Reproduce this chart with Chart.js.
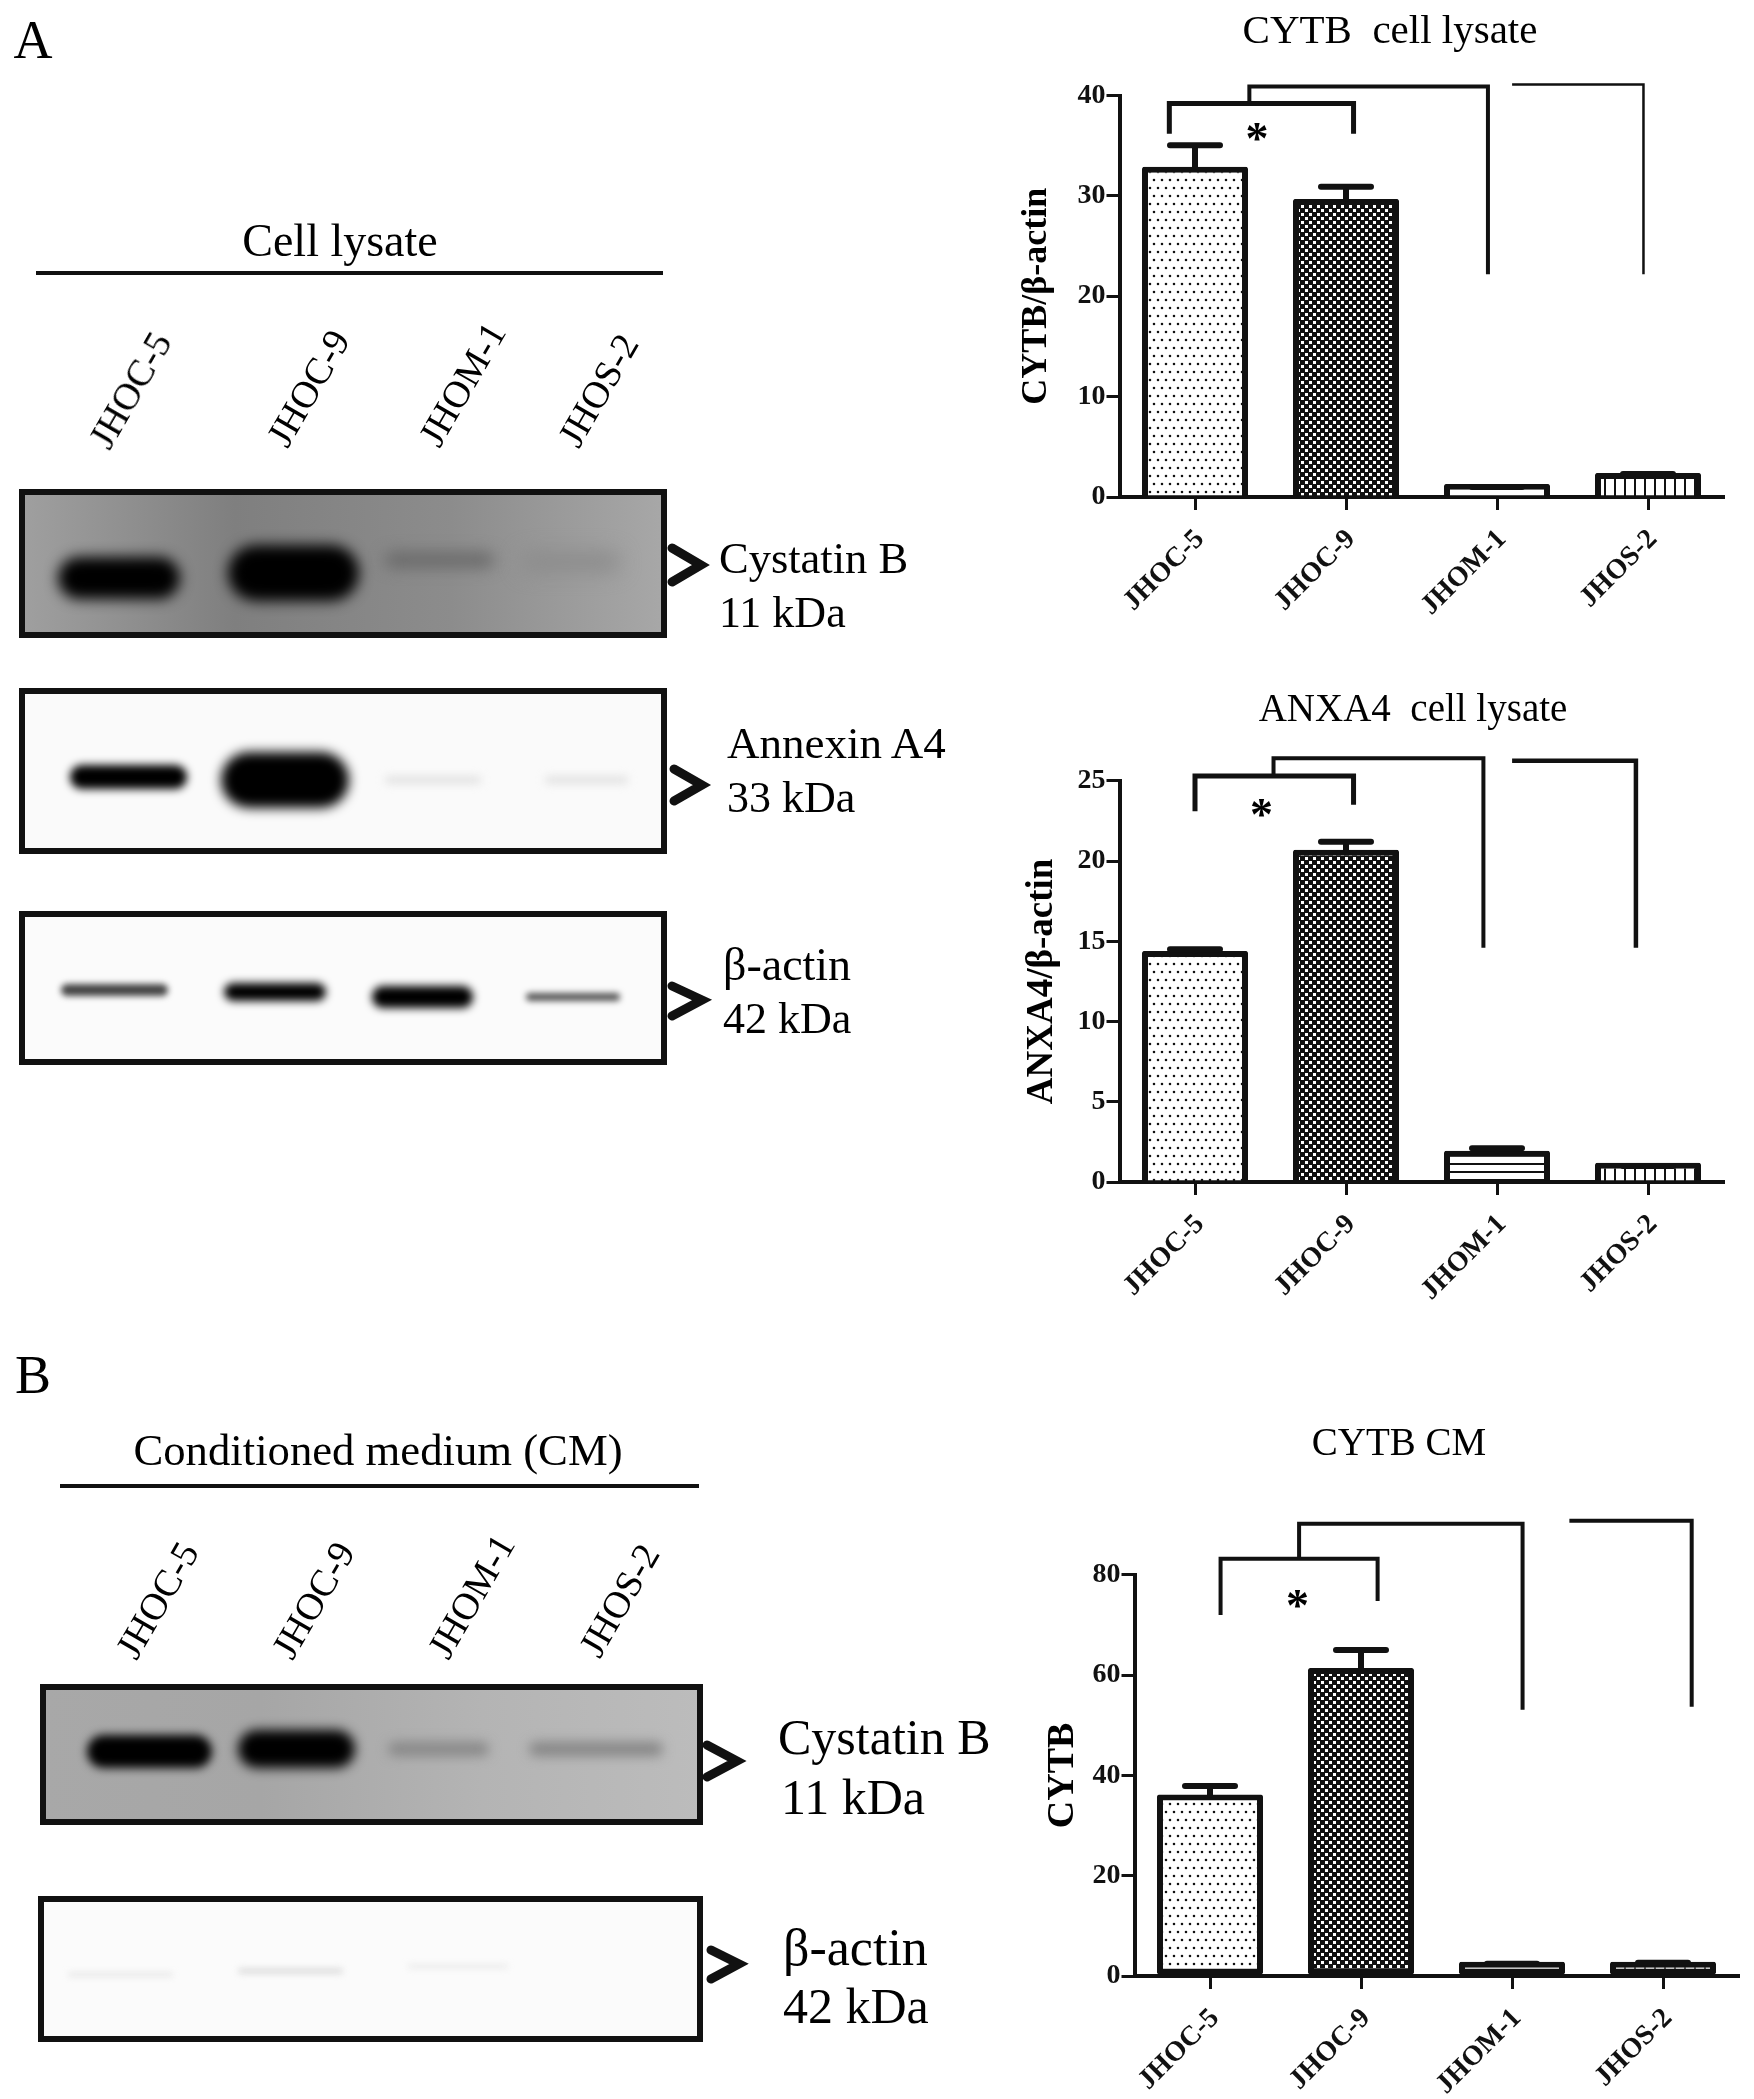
<!DOCTYPE html>
<html lang="en">
<head>
<meta charset="UTF-8">
<title>Cystatin B and Annexin A4 expression</title>
<script src="https://cdn.jsdelivr.net/npm/chart.js"></script>
<style>
    html, body { margin: 0; padding: 0; background: #fff; overflow: hidden; width: 1754px; height: 2099px; }
    #page { position: relative; width: 1754px; height: 2099px; overflow: hidden; }
    canvas { position: absolute; }
    .t { position: absolute; font-family: "Liberation Serif", serif; color: #000; white-space: nowrap; transform: translate(0, -50%); }
    .c { transform: translate(-50%, -50%); }
    .r { transform: translate(-50%, -50%) rotate(-60deg); }
</style>
</head>
<body>
<div id="page">
    <canvas id="blots" width="1000" height="2099" style="left:0;top:0"></canvas>
    <canvas id="chart1" style="left:1000px;top:0"></canvas>
    <canvas id="chart2" style="left:1000px;top:680px"></canvas>
    <canvas id="chart3" style="left:1000px;top:1400px"></canvas>
</div>
<script>
// values
const categories = ['JHOC-5', 'JHOC-9', 'JHOM-1', 'JHOS-2'];

const cytbValues = [32.9, 29.7, 1.3, 2.4];
const cytbErrors = [35.05, 30.9, 1.0, 2.3];

const anxaValues = [14.4, 20.7, 1.95, 1.2];
const anxaErrors = [14.5, 21.2, 2.1, 1.0];

const cmValues = [36.2, 61.4, 2.85, 2.85];
const cmErrors = [37.9, 65, 2.45, 2.65];

// significance brackets, in [category index, value] pairs
const cytbBrackets = [
    [[-0.17, 36.2], [-0.17, 39.2], [1.05, 39.2], [1.05, 36.2]],
    [[0.36, 39.2], [0.36, 40.9], [1.94, 40.9], [1.94, 22.2]],
    [[2.1, 41.1], [2.97, 41.1], [2.97, 22.2]]
];
const anxaBrackets = [
    [[0, 23.1], [0, 25.3], [1.05, 25.3], [1.05, 23.5]],
    [[0.52, 25.3], [0.52, 26.4], [1.91, 26.4], [1.91, 14.6]],
    [[2.1, 26.25], [2.92, 26.25], [2.92, 14.6]]
];
const cmBrackets = [
    [[0.07, 72], [0.07, 83.2], [1.11, 83.2], [1.11, 74.8]],
    [[0.59, 83.2], [0.59, 90.2], [2.07, 90.2], [2.07, 53.1]],
    [[2.38, 90.8], [3.19, 90.8], [3.19, 53.7]]
];

const serif = '"Liberation Serif", serif';

function tile(w, h, draw) {
    const c = document.createElement('canvas');
    c.width = w;
    c.height = h;
    const g = c.getContext('2d');
    g.fillStyle = '#fff';
    g.fillRect(0, 0, w, h);
    g.fillStyle = '#111';
    draw(g);
    return g.createPattern(c, 'repeat');
}

const dots = tile(8, 16, g => {
    g.beginPath();
    g.arc(2, 4, 1.3, 0, 7);
    g.arc(6, 12, 1.3, 0, 7);
    g.fill();
});
const checks = tile(8, 8, g => {
    g.fillRect(0, 0, 8, 8);
    g.fillStyle = '#fff';
    g.fillRect(1, 1, 3, 3);
    g.fillRect(5, 5, 3, 3);
});
const hLines = tile(8, 8, g => g.fillRect(0, 3, 8, 2));
const vLines = tile(10, 10, g => g.fillRect(4, 0, 2, 10));

function errorAndBrackets(errors, brackets, widths, star) {
    return {
        id: 'errorAndBrackets',
        afterDatasetsDraw(chart) {
            const ctx = chart.ctx;
            const x = chart.scales.x;
            const y = chart.scales.y;
            ctx.save();
            ctx.strokeStyle = '#111';
            ctx.lineCap = 'round';
            errors.forEach((e, i) => {
                const px = x.getPixelForValue(i);
                const top = y.getPixelForValue(e);
                const base = y.getPixelForValue(chart.data.datasets[0].data[i]);
                ctx.lineWidth = 6;
                ctx.beginPath();
                ctx.moveTo(px, Math.max(top, base));
                ctx.lineTo(px, top);
                ctx.moveTo(px - 25, top);
                ctx.lineTo(px + 25, top);
                ctx.stroke();
            });
            ctx.lineCap = 'butt';
            ctx.lineJoin = 'miter';
            brackets.forEach((line, n) => {
                ctx.lineWidth = widths[n];
                ctx.beginPath();
                line.forEach((p, k) => {
                    const px = x.getPixelForValue(p[0]);
                    const py = y.getPixelForValue(p[1]);
                    if (k === 0) ctx.moveTo(px, py); else ctx.lineTo(px, py);
                });
                ctx.stroke();
            });
            ctx.fillStyle = '#000';
            ctx.font = 'bold 46px ' + serif;
            ctx.textAlign = 'center';
            ctx.textBaseline = 'middle';
            ctx.fillText('*', x.getPixelForValue(star[0]), y.getPixelForValue(star[1]) + 8);
            ctx.restore();
        }
    };
}

function makeChart(id, s) {
    const canvas = document.getElementById(id);
    canvas.width = s.width;
    canvas.height = s.height;
    canvas.style.width = s.width + 'px';
    canvas.style.height = s.height + 'px';
    return new Chart(canvas, {
        type: 'bar',
        data: {
            labels: categories,
            datasets: [{
                data: s.values,
                yAxisID: 'y',
                backgroundColor: [dots, checks, s.thirdFill, vLines],
                borderColor: '#111',
                borderWidth: 6,
                borderRadius: 2,
                borderSkipped: s.skip,
                categoryPercentage: 1,
                barPercentage: 0.702
            }]
        },
        options: {
            responsive: false,
            animation: false,
            devicePixelRatio: 1,
            plugins: {
                legend: { display: false },
                tooltip: { enabled: false },
                title: {
                    display: true,
                    text: s.title,
                    color: '#000',
                    font: { family: serif, size: s.titleSize, weight: 'normal' },
                    padding: s.titlePad
                }
            },
            scales: {
                x: {
                    afterFit: b => { b.height = s.xHeight; },
                    border: { color: '#111', width: 4 },
                    grid: { offset: false, drawOnChartArea: false, color: '#111', lineWidth: 3, tickLength: 13 },
                    ticks: {
                        color: '#111',
                        maxRotation: 45,
                        minRotation: 45,
                        padding: 13,
                        labelOffset: 5,
                        font: { family: serif, size: 28, weight: 'bold' }
                    }
                },
                y: {
                    min: 0,
                    max: s.max,
                    afterFit: b => { b.width = s.yWidth; },
                    border: { color: '#111', width: 4 },
                    grid: { drawOnChartArea: false, color: '#111', lineWidth: 3, tickLength: 13 },
                    ticks: {
                        stepSize: s.step,
                        color: '#111',
                        padding: 1,
                        font: { family: serif, size: 28, weight: 'bold' }
                    },
                    title: {
                        display: true,
                        text: s.yTitle,
                        color: '#000',
                        padding: { top: s.yTitleLeft, bottom: 0 },
                        font: { family: serif, size: s.yTitleSize, weight: 'bold' }
                    }
                },
                // empty axis that only reserves the room right of the plot, so the title centres like the figure
                spare: {
                    position: 'right',
                    afterFit: b => { b.width = s.right; },
                    border: { display: false },
                    grid: { display: false },
                    ticks: { display: false }
                }
            }
        },
        plugins: [errorAndBrackets(s.errors, s.brackets, s.bracketWidths, s.star)]
    });
}

makeChart('chart1', {
    width: 780, height: 660, right: 56.5, yWidth: 119.5, xHeight: 163,
    title: 'CYTB  cell lysate', titleSize: 41, titlePad: { top: 8, bottom: 38.3 },
    yTitle: 'CYTB/β-actin', yTitleSize: 36, yTitleLeft: 15,
    values: cytbValues, errors: cytbErrors, brackets: cytbBrackets, bracketWidths: [5, 4, 2.5], star: [0.41, 36.2],
    max: 40, step: 10, thirdFill: '#fff', skip: 'bottom'
});

makeChart('chart2', {
    width: 826, height: 640, right: 102.5, yWidth: 119.5, xHeight: 138,
    title: 'ANXA4  cell lysate', titleSize: 39, titlePad: { top: 7, bottom: 47 },
    yTitle: 'ANXA4/β-actin', yTitleSize: 37, yTitleLeft: 20,
    values: anxaValues, errors: anxaErrors, brackets: anxaBrackets, bracketWidths: [5, 4, 4.5], star: [0.44, 23.2],
    max: 25, step: 5, thirdFill: hLines, skip: 'bottom'
});

makeChart('chart3', {
    width: 798, height: 699, right: 59.5, yWidth: 134.5, xHeight: 123,
    title: 'CYTB CM', titleSize: 39, titlePad: { top: 21, bottom: 107 },
    yTitle: 'CYTB', yTitleSize: 38, yTitleLeft: 40,
    values: cmValues, errors: cmErrors, brackets: cmBrackets, bracketWidths: [4, 4, 4], star: [0.58, 74.8],
    max: 80, step: 20, thirdFill: '#fff', skip: false
});

// western blot panels on the left, these are photographs in the original
const panels = [
    { x: 19, y: 489, w: 648, h: 149, stops: ['#a0a0a0', '#7f7f7f', '#8c8c8c', '#a8a8a8'], bands: [
        [58, 557, 122, 42, '#000', 7], [228, 545, 131, 56, '#000', 7], [385, 553, 109, 14, '#666', 8], [520, 552, 100, 20, '#8c8c8c', 10]
    ] },
    { x: 19, y: 688, w: 648, h: 166, stops: ['#fafafa', '#fafafa'], bands: [
        [70, 765, 117, 24, '#000', 4], [221, 752, 128, 56, '#000', 6], [385, 776, 96, 8, '#e2e2e2', 4], [545, 776, 83, 8, '#e2e2e2', 4]
    ] },
    { x: 19, y: 911, w: 648, h: 154, stops: ['#fbfbfb', '#fbfbfb'], bands: [
        [61, 984, 107, 12, '#444', 3], [224, 983, 102, 18, '#000', 4], [372, 986, 101, 22, '#000', 4], [526, 993, 94, 8, '#555', 3]
    ] },
    { x: 40, y: 1684, w: 663, h: 141, stops: ['#a8a8a8', '#a6a6a6', '#b4b4b4', '#bcbcbc'], bands: [
        [87, 1735, 125, 33, '#000', 5], [238, 1730, 117, 38, '#000', 6], [388, 1742, 101, 14, '#888', 6], [529, 1742, 134, 14, '#868686', 6]
    ] },
    { x: 38, y: 1896, w: 665, h: 146, stops: ['#fbfbfb', '#fbfbfb'], bands: [
        [68, 1972, 105, 5, '#e9e9e9', 3], [238, 1968, 105, 6, '#dedede', 3], [408, 1964, 100, 5, '#ececec', 3]
    ] }
];

const arrows = [
    [[672, 548], [701, 565], [672, 582]],
    [[674, 769], [702, 785], [674, 801]],
    [[672, 986], [702, 1000], [672, 1016]],
    [[707, 1745], [737, 1761], [707, 1777]],
    [[711, 1950], [739, 1964], [711, 1979]]
];

const rules = [[36, 663, 273], [60, 699, 1486]];

const ctx = document.getElementById('blots').getContext('2d');
panels.forEach(p => {
    ctx.save();
    ctx.beginPath();
    ctx.rect(p.x, p.y, p.w, p.h);
    ctx.clip();
    const grad = ctx.createLinearGradient(p.x, 0, p.x + p.w, 0);
    p.stops.forEach((c, i) => grad.addColorStop(i / (p.stops.length - 1), c));
    ctx.fillStyle = grad;
    ctx.fillRect(p.x, p.y, p.w, p.h);
    p.bands.forEach(b => {
        ctx.filter = 'blur(' + b[5] + 'px)';
        ctx.fillStyle = b[4];
        ctx.beginPath();
        ctx.roundRect(b[0], b[1], b[2], b[3], b[3] / 2);
        ctx.fill();
    });
    ctx.restore();
    ctx.strokeStyle = '#111';
    ctx.lineWidth = 6;
    ctx.strokeRect(p.x + 3, p.y + 3, p.w - 6, p.h - 6);
});

ctx.strokeStyle = '#111';
ctx.lineWidth = 9;
ctx.lineCap = 'round';
arrows.forEach(a => {
    ctx.beginPath();
    ctx.moveTo(a[0][0], a[0][1]);
    ctx.lineTo(a[1][0], a[1][1]);
    ctx.lineTo(a[2][0], a[2][1]);
    ctx.stroke();
});
ctx.lineWidth = 4;
ctx.lineCap = 'butt';
rules.forEach(r => {
    ctx.beginPath();
    ctx.moveTo(r[0], r[2]);
    ctx.lineTo(r[1], r[2]);
    ctx.stroke();
});

// text on the blot side
const labels = [
    ['A', 33, 40, 54, 'c'], ['B', 33, 1375, 54, 'c'],
    ['Cell lysate', 340, 240, 46, 'c'], ['Conditioned medium (CM)', 378, 1450, 44.7, 'c'],
    ['Cystatin B', 719, 558, 44.5, ''], ['11 kDa', 719, 612, 44, ''],
    ['Annexin A4', 727, 743, 45, ''], ['33 kDa', 727, 797, 44, ''],
    ['β-actin', 723, 964, 46, ''], ['42 kDa', 723, 1018, 44, ''],
    ['Cystatin B', 778, 1737, 50, ''], ['11 kDa', 781, 1797, 50, ''],
    ['β-actin', 783, 1947, 52, ''], ['42 kDa', 783, 2006, 50, ''],
    ['JHOC-5', 130, 390, 38, 'r'], ['JHOC-9', 308, 388, 38, 'r'],
    ['JHOM-1', 462, 384, 38, 'r'], ['JHOS-2', 598, 390, 38, 'r'],
    ['JHOC-5', 157, 1600, 38, 'r'], ['JHOC-9', 313, 1600, 38, 'r'],
    ['JHOM-1', 471, 1596, 38, 'r'], ['JHOS-2', 619, 1600, 38, 'r']
];
const page = document.getElementById('page');
labels.forEach(l => {
    const el = document.createElement('div');
    el.className = 't ' + l[4];
    el.textContent = l[0];
    el.style.left = l[1] + 'px';
    el.style.top = l[2] + 'px';
    el.style.fontSize = l[3] + 'px';
    page.appendChild(el);
});
</script>
</body>
</html>
